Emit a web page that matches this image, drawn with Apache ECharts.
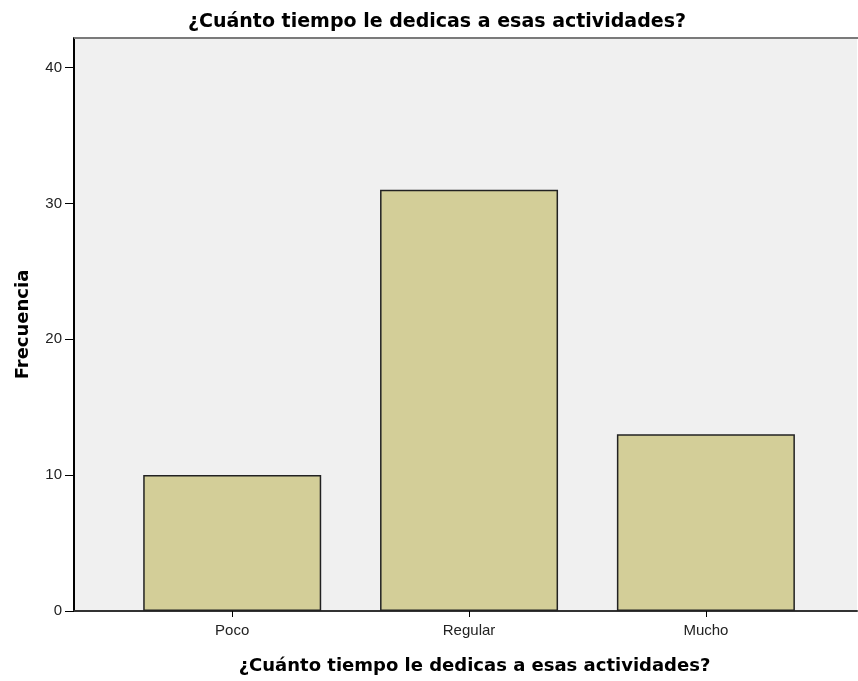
<!DOCTYPE html>
<html><head><meta charset="utf-8">
<script src="https://cdn.jsdelivr.net/npm/echarts@6/dist/echarts.min.js"></script>
<style>html,body{margin:0;padding:0;background:#fff}#c{width:858px;height:681px}</style>
</head><body><div id="c"></div>
<script>
const categories = ['Poco', 'Regular', 'Mucho'];
const frecuencia = [10, 31, 13];
const yTicks = [0, 10, 20, 30, 40];
const titleText = '¿Cuánto tiempo le dedicas a esas actividades?';

const chart = echarts.init(document.getElementById('c'), null, {renderer: 'canvas'});
const positions = categories.map((_, i) => i);
chart.setOption({
  animation: false,
  backgroundColor: '#ffffff',
  title: {
    text: titleText, left: 432, top: 8, textAlign: 'center',
    textStyle: {fontFamily: 'DejaVu Sans', fontWeight: 'bold', fontSize: 19, color: '#000'}
  },
  grid: {left: 74, right: 1, top: 38, bottom: 70, show: true, backgroundColor: '#f0f0f0', borderWidth: 0},
  xAxis: {
    type: 'value', min: -0.668, max: 2.638,
    name: titleText, nameLocation: 'middle', nameGap: 46,
    nameTextStyle: {fontFamily: 'DejaVu Sans', fontWeight: 'bold', fontSize: 18, color: '#000', padding: [0, 0, 0, 18]},
    splitLine: {show: false},
    axisLine: {show: true, onZero: false, lineStyle: {color: '#333', width: 2}},
    axisTick: {show: true, customValues: positions, length: 6, lineStyle: {color: '#000', width: 1}},
    axisLabel: {customValues: positions, formatter: v => categories[Math.round(v)] ?? '', color: '#222', fontFamily: 'Liberation Sans, Arial', fontSize: 15, margin: 12}
  },
  yAxis: {
    type: 'value', min: 0, max: 42.17,
    name: 'Frecuencia', nameLocation: 'middle', nameGap: 42, nameRotate: 90,
    nameTextStyle: {fontFamily: 'DejaVu Sans', fontWeight: 'bold', fontSize: 18, color: '#000'},
    splitLine: {show: false},
    axisLine: {show: true, onZero: false, lineStyle: {color: '#000', width: 2}},
    axisTick: {show: true, customValues: yTicks, length: 9, lineStyle: {color: '#000', width: 1}},
    axisLabel: {customValues: yTicks, color: '#222', fontFamily: 'Liberation Sans, Arial', fontSize: 15, margin: 12}
  },
  graphic: [{
    type: 'line', shape: {x1: 74, y1: 38, x2: 858, y2: 38}, style: {stroke: '#7a7a7a', lineWidth: 2}, z: 10
  }],
  series: [{
    type: 'bar',
    data: frecuencia.map((v, i) => [positions[i], v]),
    barWidth: 178,
    itemStyle: {color: '#d3ce98', borderColor: '#222', borderWidth: 1.5}
  }]
});
</script></body></html>
